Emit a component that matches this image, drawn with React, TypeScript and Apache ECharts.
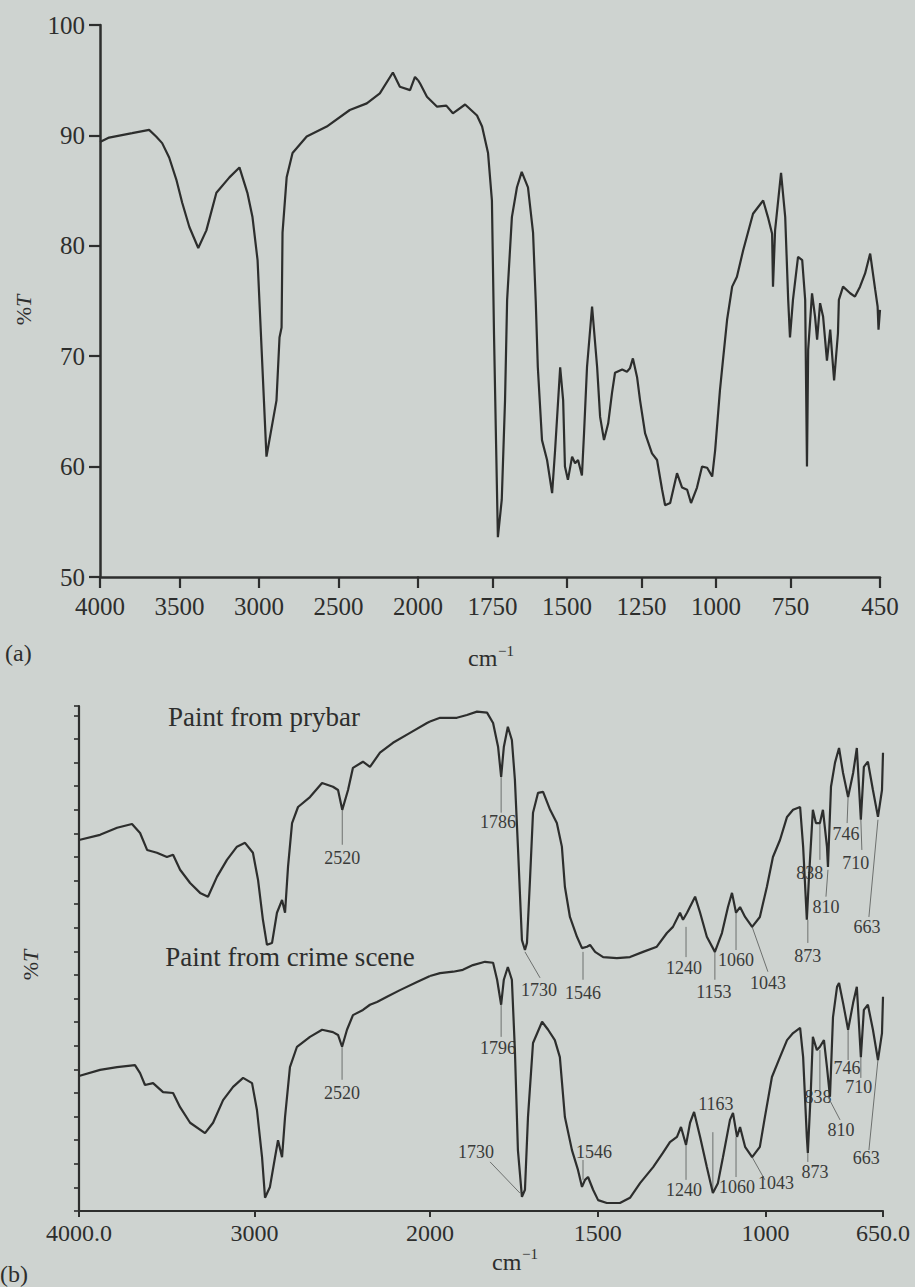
import React, { useEffect, useRef } from "react";
import * as echarts from "echarts";

// ---------- (a) IR spectrum, %T vs wavenumber (cm-1) ----------
const waveA = [
  4000, 3943, 3798, 3691, 3647, 3609, 3565, 3520, 3483, 3438, 3382, 3331, 3268, 3186, 3123, 3073,
  3041, 3009, 2953, 2890, 2871, 2858, 2852, 2826, 2789, 2700, 2574, 2429, 2322, 2240, 2158, 2114,
  2050, 2019, 2000, 1993, 1970, 1936, 1905, 1883, 1842, 1802, 1785, 1765, 1752, 1745, 1738, 1732,
  1719, 1708, 1701, 1685, 1668, 1652, 1631, 1614, 1605, 1598, 1584, 1567, 1550, 1540, 1523, 1513,
  1507, 1497, 1483, 1473, 1463, 1450, 1443, 1433, 1416, 1399, 1389, 1376, 1362, 1349, 1339, 1315,
  1299, 1289, 1279, 1265, 1255, 1238, 1215, 1198, 1181, 1171, 1154, 1131, 1114, 1097, 1084, 1064,
  1047, 1030, 1013, 1003, 987, 977, 963, 946, 930, 909, 876, 842, 826, 812, 809, 802,
  782, 768, 758, 752, 742, 725, 711, 701, 695, 691, 678, 668, 661, 651, 641, 628,
  617, 604, 591, 588, 574, 550, 534, 517, 500, 483, 466, 458, 455, 450,
];
const transA = [
  89.4, 89.8, 90.2, 90.5, 89.9, 89.3, 88.0, 86.0, 83.9, 81.7, 79.8, 81.4, 84.8, 86.2, 87.1, 84.8,
  82.6, 78.7, 60.9, 66.0, 71.7, 72.6, 81.2, 86.2, 88.4, 89.9, 90.8, 92.3, 92.9, 93.8, 95.7, 94.4,
  94.1, 95.3, 95.0, 94.7, 93.5, 92.6, 92.7, 92.0, 92.8, 91.8, 90.8, 88.4, 84.1, 72.0, 62.0, 53.6,
  57.0, 66.0, 75.1, 82.6, 85.3, 86.7, 85.3, 81.2, 75.0, 69.0, 62.4, 60.6, 57.6, 61.5, 69.0, 66.0,
  60.0, 58.8, 60.9, 60.3, 60.6, 59.2, 63.0, 69.0, 74.5, 69.0, 64.5, 62.4, 63.9, 66.7, 68.5, 68.8,
  68.6, 68.9, 69.8, 68.1, 66.0, 63.0, 61.2, 60.6, 57.9, 56.5, 56.7, 59.4, 58.1, 57.9, 56.7, 58.1,
  60.0, 59.9, 59.1, 61.5, 66.9, 69.6, 73.3, 76.3, 77.2, 79.6, 82.9, 84.1, 82.6, 81.1, 76.3, 81.4,
  86.6, 82.6, 75.1, 71.7, 75.1, 79.0, 78.7, 75.1, 60.0, 70.6, 75.7, 73.6, 71.5, 74.8, 73.6, 69.6,
  72.4, 67.8, 72.1, 75.1, 76.3, 75.7, 75.4, 76.3, 77.5, 79.3, 76.0, 74.5, 72.4, 74.2,
];

// ---------- (b) Paint from prybar ----------
const wavePry = [
  4000, 3880, 3783, 3698, 3652, 3612, 3556, 3499, 3464, 3424, 3367, 3310, 3265, 3214, 3157, 3100,
  3054, 3009, 2980, 2952, 2929, 2900, 2872, 2843, 2826, 2809, 2786, 2752, 2684, 2615, 2553, 2524,
  2500, 2467, 2439, 2382, 2342, 2285, 2211, 2114, 2017, 2000, 1970, 1920, 1890, 1860, 1830, 1812,
  1797, 1788, 1780, 1768, 1756, 1747, 1738, 1726, 1717, 1711, 1702, 1693, 1678, 1663, 1642, 1622,
  1607, 1598, 1583, 1562, 1547, 1532, 1523, 1508, 1484, 1443, 1404, 1365, 1324, 1294, 1276, 1255,
  1246, 1234, 1210, 1195, 1175, 1151, 1130, 1112, 1100, 1088, 1076, 1061, 1040, 1017, 996, 978,
  957, 936, 918, 897, 888, 877, 871, 859, 850, 838, 829, 817, 814, 805, 793, 781,
  769, 754, 739, 728, 716, 707, 695, 680, 665, 653, 650,
];
const transPry = [
  78.6, 79.7, 81.2, 82.0, 80.1, 76.5, 75.9, 75.0, 75.5, 72.3, 69.5, 67.4, 66.6, 70.8, 74.4, 77.2,
  78.0, 75.9, 70.2, 61.7, 56.4, 56.8, 63.2, 65.9, 63.2, 72.9, 82.2, 85.6, 87.7, 90.7, 89.9, 89.2,
  85.0, 89.2, 93.9, 95.2, 94.1, 97.1, 99.2, 101.3, 103.4, 103.7, 104.5, 104.5, 105.1, 105.8, 105.6, 103.4,
  98.3, 92.0, 98.3, 102.6, 99.8, 91.4, 77.2, 57.4, 55.3, 56.8, 70.2, 84.4, 88.6, 88.8, 85.0, 82.2,
  77.2, 68.7, 62.3, 58.1, 55.7, 56.0, 56.4, 54.9, 53.8, 53.6, 53.8, 54.9, 56.0, 58.9, 60.2, 63.2,
  61.7, 63.2, 66.6, 63.2, 58.1, 54.9, 58.9, 64.4, 67.4, 63.2, 64.4, 62.3, 60.2, 62.3, 68.7, 75.0,
  78.6, 83.5, 85.0, 85.6, 77.2, 61.7, 70.2, 85.0, 82.2, 82.2, 85.0, 77.2, 72.9, 89.9, 95.0, 98.1,
  92.8, 87.7, 92.8, 98.1, 82.9, 94.1, 95.2, 89.2, 83.5, 89.2, 97.1,
];

// ---------- (b) Paint from crime scene ----------
const waveCrime = [
  4000, 3880, 3783, 3681, 3652, 3624, 3578, 3521, 3464, 3424, 3367, 3282, 3236, 3179, 3122, 3065,
  3014, 2986, 2957, 2940, 2912, 2883, 2866, 2843, 2826, 2798, 2758, 2684, 2615, 2553, 2524, 2501,
  2473, 2439, 2382, 2342, 2302, 2245, 2171, 2074, 2000, 1970, 1931, 1902, 1872, 1836, 1812, 1800,
  1788, 1780, 1768, 1756, 1747, 1738, 1726, 1717, 1708, 1693, 1666, 1648, 1628, 1613, 1598, 1577,
  1559, 1547, 1538, 1529, 1514, 1499, 1473, 1434, 1404, 1374, 1335, 1306, 1285, 1264, 1252, 1237,
  1225, 1213, 1195, 1175, 1157, 1142, 1127, 1106, 1097, 1085, 1076, 1061, 1040, 1017, 1002, 981,
  957, 936, 918, 897, 888, 877, 874, 865, 859, 847, 838, 826, 817, 808, 799, 787,
  781, 769, 754, 739, 728, 716, 707, 695, 680, 665, 653, 650,
];
const transCrime = [
  28.6, 29.9, 30.5, 30.9, 29.2, 26.7, 27.1, 25.2, 25.0, 22.0, 18.7, 16.5, 18.7, 23.5, 26.3, 28.2,
  27.1, 21.4, 11.4, 2.8, 5.1, 11.4, 15.0, 11.4, 19.9, 30.5, 34.8, 36.9, 38.4, 37.9, 37.3, 34.8,
  38.4, 41.5, 42.6, 43.7, 44.3, 45.4, 46.8, 48.5, 49.8, 50.4, 50.7, 51.1, 52.1, 52.8, 52.6, 49.0,
  43.7, 49.0, 51.7, 49.0, 34.1, 12.9, 3.0, 4.5, 19.9, 35.6, 40.1, 38.4, 36.2, 32.6, 19.9, 12.9,
  8.7, 5.1, 6.6, 7.2, 4.5, 2.3, 1.7, 1.7, 2.8, 5.9, 9.3, 12.3, 14.6, 15.7, 17.8, 14.0,
  18.7, 21.0, 15.7, 9.3, 3.8, 5.9, 11.4, 19.3, 20.8, 15.7, 17.8, 13.6, 11.4, 13.6, 19.9, 28.4,
  32.6, 36.2, 37.7, 38.8, 32.6, 15.7, 12.3, 25.6, 36.9, 34.1, 34.8, 36.2, 30.5, 24.2, 41.1, 47.5,
  48.3, 44.1, 38.4, 44.1, 47.5, 32.6, 42.6, 43.7, 38.4, 32.0, 37.7, 45.4,
];

// ---------- tick labels ----------
const ticksAHigh = [4000, 3500, 3000, 2500, 2000];
const ticksALow = [1750, 1500, 1250, 1000, 750, 450];
const ticksBHigh = [4000, 3000, 2000];
const ticksBLow = [1500, 1000, 650];

// ---------- peak annotations: [tip wn, tip %T, end wn, end %T, text wn, text %T, label] ----------
const peaksPry: [number, number, number, number, number, number, string][] = [
  [2500, 85.0, 2500, 77.6, 2500, 74.8, "2520"],
  [1788, 92.0, 1788, 84.4, 1797, 82.5, "1786"],
  [1717, 54.9, 1672, 49.4, 1675, 46.8, "1730"],
  [1544, 54.9, 1544, 49.0, 1544, 46.2, "1546"],
  [1237, 60.2, 1237, 53.8, 1243, 51.5, "1240"],
  [1151, 54.9, 1151, 49.0, 1154, 46.4, "1153"],
  [1088, 63.2, 1088, 55.3, 1088, 53.2, "1060"],
  [1040, 60.2, 993, 50.7, 993, 48.3, "1043"],
  [874, 61.7, 874, 56.8, 874, 54.0, "873"],
  [838, 82.2, 838, 74.4, 868, 71.6, "838"],
  [814, 72.3, 820, 66.6, 820, 64.4, "810"],
  [754, 87.7, 757, 82.2, 760, 79.9, "746"],
  [716, 82.9, 713, 76.5, 731, 73.8, "710"],
  [665, 82.9, 692, 62.3, 698, 60.2, "663"],
];
const peaksCrime: [number, number, number, number, number, number, string][] = [
  [2501, 34.8, 2501, 27.8, 2501, 25.0, "2520"],
  [1788, 43.7, 1788, 36.9, 1797, 34.5, "1796"],
  [1732, 3.8, 1821, 10.4, 1863, 12.5, "1730"],
  [1544, 6.6, 1544, 10.8, 1511, 12.5, "1546"],
  [1237, 14.0, 1237, 6.6, 1243, 4.5, "1240"],
  [1157, 16.7, 1157, 4.5, 1157, 4.5, ""],
  [1148, 22.7, 1148, 22.7, 1148, 22.7, "1163"],
  [1088, 15.7, 1088, 7.2, 1085, 5.1, "1060"],
  [1040, 11.4, 1002, 6.6, 969, 5.9, "1043"],
  [874, 12.3, 874, 10.4, 853, 8.3, "873"],
  [838, 34.1, 838, 25.6, 844, 24.2, "838"],
  [814, 24.2, 778, 19.3, 775, 17.2, "810"],
  [754, 38.4, 754, 32.0, 757, 30.3, "746"],
  [716, 32.6, 716, 28.2, 722, 26.3, "710"],
  [665, 32.0, 692, 12.9, 700, 11.2, "663"],
];

const ink = "#2d2e2d";
const paper = "#ced3d0";
const serif = "Liberation Serif, DejaVu Serif, serif";

const pairs = (xs: number[], ys: number[], high: boolean) =>
  xs.map((x, i) => [x, ys[i]]).filter(([x]) => (high ? x >= 2000 : x <= 2000));

const annotSeries = (list: typeof peaksPry, axis: number) => ({
  type: "custom",
  xAxisIndex: axis,
  yAxisIndex: axis,
  silent: true,
  clip: false,
  data: list.map((a) => [a[0], a[1]]),
  encode: { x: 0, y: 1 },
  renderItem: (params: any, api: any) => {
    const a = list[params.dataIndex];
    const p1 = api.coord([a[0], a[1]]);
    const p2 = api.coord([a[2], a[3]]);
    const pt = api.coord([a[4], a[5]]);
    const children: any[] = [];
    if (a[0] !== a[2] || a[1] !== a[3]) {
      children.push({
        type: "line",
        shape: { x1: p1[0], y1: p1[1], x2: p2[0], y2: p2[1] },
        style: { stroke: "#6d706e", lineWidth: 1 },
      });
    }
    if (a[6]) {
      children.push({
        type: "text",
        x: pt[0],
        y: pt[1],
        style: {
          text: a[6],
          fill: "#3a3b3a",
          fontSize: 18,
          fontFamily: serif,
          align: "center",
          verticalAlign: "middle",
        },
      });
    }
    return { type: "group", children };
  },
});

// axis labels drawn as rich text so the serif face is used
const serifLabel = (size: number, fmt: (v: number) => string) => ({
  formatter: (v: number) => `{s|${fmt(v)}}`,
  rich: { s: { fontSize: size, fontFamily: serif, color: ink } },
  fontSize: size,
  fontFamily: serif,
  color: ink,
});

export default function App() {
  const ref = useRef<HTMLDivElement>(null);

  useEffect(() => {
    document.body.style.margin = "0";
    document.body.style.background = paper;
    if (!ref.current) return;
    const chart = echarts.init(ref.current, undefined, { renderer: "svg" });

    const lineStyle = { color: ink, width: 2.5 };
    const spec = (data: number[][], axis: number) => ({
      type: "line",
      xAxisIndex: axis,
      yAxisIndex: axis,
      data,
      showSymbol: false,
      symbol: "none",
      silent: true,
      lineStyle: { color: ink, width: 2.2 },
    });

    const plain = (v: number) => String(v);

    const option: any = {
      animation: false,
      backgroundColor: paper,
      textStyle: { fontFamily: serif },
      grid: [
        { left: 100, top: 25, width: 318, height: 552 },
        { left: 418, top: 25, width: 462, height: 552 },
        { left: 79, top: 706, width: 351, height: 505 },
        { left: 430, top: 706, width: 453, height: 505 },
      ],
      xAxis: [
        {
          gridIndex: 0, type: "value", min: 2000, max: 4000, interval: 500, inverse: true,
          axisLine: { onZero: false, lineStyle },
          axisTick: { length: 11, lineStyle: { color: ink, width: 2.2 }, customValues: ticksAHigh },
          axisLabel: { ...serifLabel(25, plain), margin: 17, customValues: ticksAHigh },
          splitLine: { show: false },
        },
        {
          gridIndex: 1, type: "value", min: 450, max: 2000, inverse: true,
          axisLine: { onZero: false, lineStyle },
          axisTick: { length: 11, lineStyle: { color: ink, width: 2.2 }, customValues: ticksALow },
          axisLabel: { ...serifLabel(25, plain), margin: 17, customValues: ticksALow },
          splitLine: { show: false },
        },
        {
          gridIndex: 2, type: "value", min: 2000, max: 4000, interval: 1000, inverse: true,
          axisLine: { onZero: false, lineStyle: { color: ink, width: 2.2 } },
          axisTick: { length: 6, lineStyle: { color: ink, width: 2 }, customValues: ticksBHigh },
          axisLabel: {
            ...serifLabel(24, (v) => (v === 4000 ? "4000.0" : String(v))),
            margin: 10, customValues: ticksBHigh,
          },
          splitLine: { show: false },
        },
        {
          gridIndex: 3, type: "value", min: 650, max: 2000, inverse: true,
          axisLine: { onZero: false, lineStyle: { color: ink, width: 2.2 } },
          axisTick: { length: 6, lineStyle: { color: ink, width: 2 }, customValues: ticksBLow },
          axisLabel: {
            ...serifLabel(24, (v) => (v === 650 ? "650.0" : String(v))),
            margin: 10, customValues: ticksBLow,
          },
          splitLine: { show: false },
        },
      ],
      yAxis: [
        {
          gridIndex: 0, type: "value", min: 50, max: 100, interval: 10,
          axisLine: { show: true, lineStyle },
          axisTick: { show: true, length: 11, lineStyle: { color: ink, width: 2.2 } },
          axisLabel: { ...serifLabel(25, plain), margin: 15 },
          splitLine: { show: false },
        },
        { gridIndex: 1, type: "value", min: 50, max: 100, show: false },
        {
          gridIndex: 2, type: "value", min: 0, max: 107, interval: 5,
          axisLine: { show: true, lineStyle: { color: ink, width: 2.2 } },
          axisTick: { show: true, length: 5, lineStyle: { color: ink, width: 1.6 } },
          axisLabel: { show: false },
          splitLine: { show: false },
        },
        { gridIndex: 3, type: "value", min: 0, max: 107, show: false },
      ],
      series: [
        spec(pairs(waveA, transA, true), 0),
        spec(pairs(waveA, transA, false), 1),
        spec(pairs(wavePry, transPry, true), 2),
        spec(pairs(wavePry, transPry, false), 3),
        spec(pairs(waveCrime, transCrime, true), 2),
        spec(pairs(waveCrime, transCrime, false), 3),
        annotSeries(peaksPry.filter((p) => p[0] > 2000), 2),
        annotSeries(peaksPry.filter((p) => p[0] < 2000), 3),
        annotSeries(peaksCrime.filter((p) => p[0] > 2000), 2),
        annotSeries(peaksCrime.filter((p) => p[0] < 2000), 3),
      ],
      graphic: [
        {
          type: "text", x: 23, y: 310, rotation: Math.PI / 2,
          style: {
            text: "{p|%}{t|T}",
            rich: {
              p: { fontSize: 22, fontFamily: serif, fill: ink },
              t: { fontSize: 22, fontFamily: serif, fontStyle: "italic", fill: ink },
            },
            align: "center", verticalAlign: "middle",
          },
        },
        {
          type: "text", x: 30, y: 965, rotation: Math.PI / 2,
          style: {
            text: "{p|%}{t|T}",
            rich: {
              p: { fontSize: 22, fontFamily: serif, fill: ink },
              t: { fontSize: 22, fontFamily: serif, fontStyle: "italic", fill: ink },
            },
            align: "center", verticalAlign: "middle",
          },
        },
        { type: "text", x: 468, y: 658, style: { text: "cm", fontSize: 24, fontFamily: serif, fill: ink, align: "left", verticalAlign: "middle" } },
        { type: "text", x: 498, y: 651, style: { text: "\u22121", fontSize: 15, fontFamily: serif, fill: ink, align: "left", verticalAlign: "middle" } },
        { type: "text", x: 492, y: 1262, style: { text: "cm", fontSize: 24, fontFamily: serif, fill: ink, align: "left", verticalAlign: "middle" } },
        { type: "text", x: 522, y: 1254, style: { text: "\u22121", fontSize: 15, fontFamily: serif, fill: ink, align: "left", verticalAlign: "middle" } },
        { type: "text", x: 5, y: 653, style: { text: "(a)", fontSize: 24, fontFamily: serif, fill: ink, align: "left", verticalAlign: "middle" } },
        { type: "text", x: 0, y: 1274, style: { text: "(b)", fontSize: 24, fontFamily: serif, fill: ink, align: "left", verticalAlign: "middle" } },
        { type: "text", x: 264, y: 717, style: { text: "Paint from prybar", fontSize: 27, fontFamily: serif, fill: ink, align: "center", verticalAlign: "middle" } },
        { type: "text", x: 290, y: 957, style: { text: "Paint from crime scene", fontSize: 27, fontFamily: serif, fill: ink, align: "center", verticalAlign: "middle" } },
      ],
    };

    chart.setOption(option);
    return () => chart.dispose();
  }, []);

  return <div ref={ref} style={{ width: 915, height: 1287, background: paper }} />;
}
